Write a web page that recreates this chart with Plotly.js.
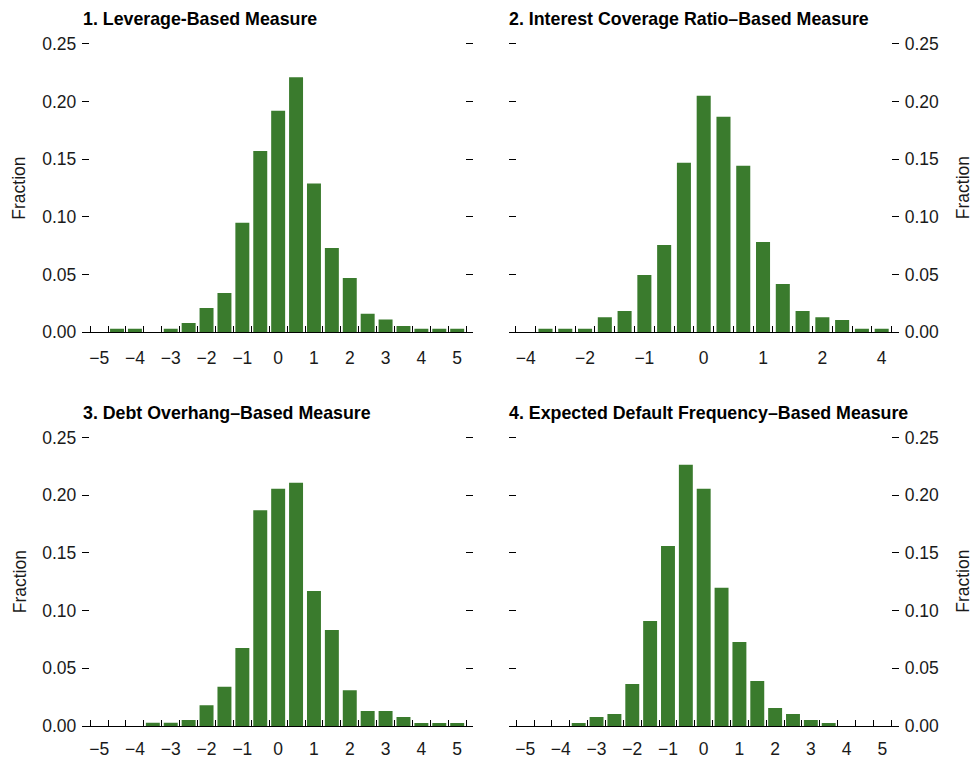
<!DOCTYPE html>
<html>
<head>
<meta charset="utf-8">
<script src="https://cdn.plot.ly/plotly-3.0.1.min.js"></script>
<style>
html,body{margin:0;padding:0;background:#fff;}
#chart{width:974px;height:762px;}
</style>
</head>
<body>
<div id="chart"></div>
<script>
// ---- Data ----
var panelTitles = [
  "1. Leverage-Based Measure",
  "2. Interest Coverage Ratio\u2013Based Measure",
  "3. Debt Overhang\u2013Based Measure",
  "4. Expected Default Frequency\u2013Based Measure"
];
var yTitle = "Fraction";

// Panels 1, 3, 4: bins centred at -5 ... 5 (step 0.5)
var binCenters = [-5, -4.5, -4, -3.5, -3, -2.5, -2, -1.5, -1, -0.5, 0, 0.5, 1, 1.5, 2, 2.5, 3, 3.5, 4, 4.5, 5];
var leverageFrac = [0, 0.003, 0.003, 0, 0.003, 0.008, 0.021, 0.034, 0.095, 0.157, 0.192, 0.221, 0.129, 0.073, 0.047, 0.016, 0.011, 0.0055, 0.003, 0.003, 0.003];
var debtFrac     = [0, 0, 0, 0.0028, 0.0028, 0.0052, 0.018, 0.034, 0.0676, 0.187, 0.2055, 0.2107, 0.117, 0.0832, 0.031, 0.013, 0.013, 0.0078, 0.0027, 0.0027, 0.0027];
var edfFrac      = [0, 0, 0, 0.0027, 0.0078, 0.0104, 0.0364, 0.091, 0.156, 0.2263, 0.2055, 0.1197, 0.0728, 0.039, 0.0156, 0.0104, 0.0052, 0.0027, 0, 0, 0];
var stdTickVals  = [-5, -4, -3, -2, -1, 0, 1, 2, 3, 4, 5];

// Panel 2: 19 bins (bin index -9 ... 9), labelled every third bin
var icrBins = [-9, -8, -7, -6, -5, -4, -3, -2, -1, 0, 1, 2, 3, 4, 5, 6, 7, 8, 9];
var icrFrac = [0, 0.003, 0.003, 0.003, 0.013, 0.0185, 0.0497, 0.0757, 0.1468, 0.205, 0.1867, 0.1442, 0.0783, 0.0419, 0.0185, 0.013, 0.0107, 0.003, 0.003];
var icrTickVals = [-9, -6, -3, 0, 3, 6, 9];
var icrTickText = ["\u22124", "\u22122", "\u22121", "0", "1", "2", "4"];

var yTickVals = [0, 0.05, 0.10, 0.15, 0.20, 0.25];

// ---- Styling ----
var green = "#3a7b2d";
var txt = "#1a1a1a";
var baseFont = "Liberation Sans, Arial, Helvetica, sans-serif";
var titleFont = "Liberation Sans Narrow, Arial Narrow, Liberation Sans, sans-serif";

function barTrace(x, y, xa, ya, w) {
  return {type: "bar", x: x, y: y, xaxis: xa, yaxis: ya, width: w,
          marker: {color: green, line: {width: 0}}, hoverinfo: "skip", showlegend: false};
}

var data = [
  barTrace(binCenters, leverageFrac, "x", "y", 0.39),
  barTrace(icrBins, icrFrac, "x2", "y2", 0.71),
  barTrace(binCenters, debtFrac, "x3", "y3", 0.39),
  barTrace(binCenters, edfFrac, "x4", "y4", 0.39)
];

var W = 974, H = 762;
var colL = [82.3 / W, 473.3 / W];
var colR = [508.7 / W, 898.7 / W];
// top of each row extended by ~2px so the 0.25 tick is not clipped at the edge
var rowT = [1 - 332.3 / H, 1 - 41.7 / H];
var rowB = [1 - 726 / H, 1 - 435.4 / H];
var yRange = [0, 0.25 + 2 * 0.25 / 288.3];

function xAxis(domain, anchor, range, tickvals, ticktext, minorTick0, minorDtick, standoff) {
  var a = {
    domain: domain, anchor: anchor, range: range,
    tickmode: "array", tickvals: tickvals,
    ticks: "", showgrid: false, zeroline: false,
    showline: true, linecolor: "#000", linewidth: 1,
    ticklabelstandoff: standoff,
    tickfont: {family: baseFont, size: 17.5, color: txt},
    minor: {ticks: "inside", ticklen: 6, tickwidth: 1, tickcolor: "#000",
            tickmode: "linear", tick0: minorTick0, dtick: minorDtick, showgrid: false},
    fixedrange: true
  };
  if (ticktext) a.ticktext = ticktext;
  return a;
}
function yAxis(domain, anchor, side) {
  return {
    domain: domain, anchor: anchor, side: side, range: yRange,
    tickmode: "array", tickvals: yTickVals, tickformat: ".2f",
    ticks: "inside", ticklen: 7, tickwidth: 1, tickcolor: "#000",
    mirror: "ticks", showline: false, showgrid: false, zeroline: false,
    ticklabelstandoff: 5,
    tickfont: {family: baseFont, size: 17.5, color: txt},
    fixedrange: true
  };
}

var layout = {
  width: W, height: H,
  margin: {l: 0, r: 0, t: 0, b: 0, pad: 0},
  paper_bgcolor: "#fff", plot_bgcolor: "rgba(0,0,0,0)",
  font: {family: baseFont, size: 17.5, color: txt},
  showlegend: false,
  xaxis:  xAxis(colL, "y",  [-5.47, 5.45], stdTickVals, null, 0.25, 0.5, 10),
  xaxis2: xAxis(colR, "y2", [-9.86, 9.86], icrTickVals, icrTickText, 0.5, 1, 10),
  xaxis3: xAxis(colL, "y3", [-5.47, 5.45], stdTickVals, null, 0.25, 0.5, 7),
  xaxis4: xAxis(colR, "y4", [-5.46, 5.46], stdTickVals, null, 0.25, 0.5, 7),
  yaxis:  yAxis(rowT, "x",  "left"),
  yaxis2: yAxis(rowT, "x2", "right"),
  yaxis3: yAxis(rowB, "x3", "left"),
  yaxis4: yAxis(rowB, "x4", "right"),
  annotations: []
};

var titlePos = [[80.5, 19], [507, 19], [80.5, 413], [507, 413]];
for (var i = 0; i < 4; i++) {
  layout.annotations.push({
    text: "<b>" + panelTitles[i] + "</b>", xref: "paper", yref: "paper",
    x: titlePos[i][0] / W, y: 1 - titlePos[i][1] / H, xanchor: "left", yanchor: "middle",
    showarrow: false, font: {family: titleFont, size: 17.8, color: "#000"}
  });
}
var fracPos = [[19.5, 188.2], [963, 188.2], [19.5, 581.8], [963, 581.8]];
for (var j = 0; j < 4; j++) {
  layout.annotations.push({
    text: yTitle, xref: "paper", yref: "paper",
    x: fracPos[j][0] / W, y: 1 - fracPos[j][1] / H, xanchor: "center", yanchor: "middle",
    textangle: -90, showarrow: false, font: {family: baseFont, size: 17.5, color: txt}
  });
}

Plotly.newPlot("chart", data, layout, {staticPlot: true, displayModeBar: false});
</script>
</body>
</html>
